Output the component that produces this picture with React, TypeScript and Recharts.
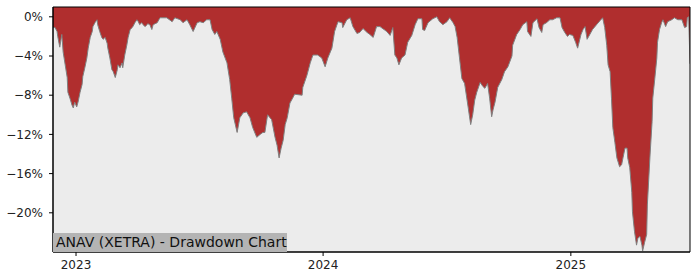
import React from "react";
import { AreaChart, Area, XAxis, YAxis, CartesianGrid, ReferenceArea } from "recharts";

const START_DATE = Date.UTC(2022, 10, 28);
const DAY_MS = 86400000;
const LAST_DAY = 941;

// calendar days since 2022-11-28
const dayOffsets = [
  0, 3, 6, 7, 10, 13, 15, 18, 21, 22, 25, 28, 30, 32, 35, 37, 40, 43, 44, 47, 50, 52, 55, 58, 59, 62, 65, 66, 69, 72,
  74, 77, 80, 81, 84, 87, 89, 92, 95, 96, 99, 102, 103, 106, 109, 111, 114, 117, 118, 121, 124, 126, 128, 131, 133,
  136, 139, 140, 143, 146, 148, 154, 158, 168, 176, 180, 188, 192, 198, 202, 207, 213, 217, 222, 227, 232, 235, 239,
  242, 247, 251, 257, 261, 264, 267, 272, 276, 281, 286, 291, 295, 301, 306, 310, 313, 317, 323, 328, 331, 334, 337,
  340, 343, 346, 350, 354, 357, 368, 369, 375, 380, 384, 391, 397, 402, 406, 412, 416, 421, 427, 428, 434, 439, 443,
  449, 453, 458, 464, 468, 473, 478, 483, 493, 498, 502, 505, 508, 511, 515, 520, 524, 530, 535, 539, 545, 546, 549,
  554, 561, 567, 571, 576, 582, 586, 591, 594, 597, 600, 604, 608, 613, 617, 620, 623, 626, 631, 635, 638, 642, 645,
  648, 650, 653, 657, 663, 667, 672, 678, 679, 685, 690, 694, 700, 701, 706, 709, 715, 718, 722, 724, 729, 734, 738,
  744, 749, 752, 756, 760, 763, 768, 772, 775, 780, 783, 786, 789, 793, 797, 803, 808, 812, 815, 818, 820, 823, 825,
  827, 830, 833, 837, 840, 842, 845, 848, 849, 852, 855, 856, 859, 862, 864, 867, 870, 871, 874, 877, 878, 882, 885,
  886, 889, 892, 893, 896, 899, 901, 905, 908, 914, 918, 923, 929, 933, 936, 937, 939, 941,
];

// drawdown in percent
const drawdownPct = [
  -1.1, -1.1, -1.5, -2.0, -3.1, -1.8, -3.6, -4.9, -6.2, -7.7, -8.3, -9.0, -9.3, -8.7, -9.2, -8.7, -7.7, -6.9, -6.1,
  -5.2, -4.2, -3.2, -2.1, -1.5, -1.0, -0.6, -0.3, -0.8, -1.5, -2.1, -2.3, -2.1, -2.7, -3.2, -4.2, -5.4, -5.6, -6.2,
  -5.4, -4.9, -5.2, -4.7, -5.2, -3.9, -2.9, -2.1, -1.3, -1.1, -1.0, -0.6, -0.3, -0.5, -0.8, -0.6, -0.8, -1.0, -0.8,
  -0.7, -0.8, -1.3, -0.8, -0.6, -0.1, -0.1, -0.5, -0.1, -0.3, -0.6, -0.3, -0.8, -1.5, -0.6, -0.5, -0.6, -0.3, -0.3,
  -1.3, -1.8, -1.5, -2.3, -3.6, -4.7, -6.4, -8.3, -10.3, -11.8, -10.3, -9.8, -9.7, -10.3, -11.3, -12.3, -12.0, -11.8,
  -11.8, -10.0, -10.5, -12.3, -13.1, -14.4, -13.4, -12.6, -11.0, -10.3, -8.8, -8.3, -7.9, -8.0, -7.2, -6.0, -4.7,
  -3.9, -3.9, -4.2, -5.1, -4.2, -3.2, -1.5, -0.5, -0.6, -1.1, -0.3, -0.1, -1.0, -1.7, -1.6, -1.2, -1.6, -1.8, -2.1,
  -1.0, -1.0, -1.5, -1.9, -1.1, -3.9, -4.2, -4.9, -4.2, -3.9, -2.6, -1.9, -0.8, -0.2, -0.2, -1.3, -1.4, -0.6, -0.2,
  0, -0.5, -0.8, -0.5, -0.1, -0.6, -1.0, -2.1, -3.9, -6.3, -6.8, -9.1, -11.0, -10.0, -8.5, -7.7, -6.7, -7.1, -7.3,
  -6.8, -8.3, -10.2, -9.5, -8.7, -7.2, -6.4, -5.6, -5.1, -4.0, -2.9, -1.8, -1.3, -0.8, -0.5, -1.5, -2.0, -0.6, -0.2,
  -1.1, -1.6, -0.8, -0.6, -0.3, -0.3, -0.1, -0.1, -1.1, -1.6, -2.0, -1.8, -1.9, -2.6, -3.2, -1.8, -1.3, -1.0, -2.3,
  -1.8, -1.3, -0.8, -0.4, -0.1, -1.1, -2.9, -4.9, -5.6, -8.3, -11.3, -12.8, -14.4, -15.3, -15.1, -14.4, -13.4, -13.4,
  -14.4, -15.4, -17.9, -19.9, -21.9, -23.3, -22.6, -22.4, -23.3, -23.9, -23.0, -22.2, -19.2, -14.1, -10.7, -8.3,
  -6.3, -4.2, -2.6, -1.3, -0.6, -0.3, -1.0, -0.5, -0.3, -0.1, -0.3, -0.3, -1.1, -1.0, -0.1, 0, -4.8,
];

const yearTicks = [2023, 2024, 2025];
const yTicks = [0, -4, -8, -12, -16, -20];
const Y_DOMAIN: [number, number] = [-24, 1];
const TITLE = "ANAV (XETRA) - Drawdown Chart";

const data = dayOffsets.map((d, i) => ({ t: START_DATE + d * DAY_MS, dd: drawdownPct[i] }));
const xDomain: [number, number] = [START_DATE, START_DATE + LAST_DAY * DAY_MS];

const fmtPct = (v: number) => (v < 0 ? "\u2212" : "") + Math.abs(v) + "%";
const tickStyle = { fontFamily: "DejaVu Sans", fontSize: 12, fill: "#222" };

export default function App() {
  return (
    <div style={{ position: "absolute", left: 0, top: 0, width: 700, height: 280, background: "#fff" }}>
      <AreaChart width={700} height={280} data={data} margin={{ top: 7, right: 10, left: 0, bottom: 0 }}>
        <CartesianGrid fill="#ececec" horizontal={false} vertical={false} />
        <XAxis
          dataKey="t"
          type="number"
          domain={xDomain}
          allowDataOverflow
          ticks={yearTicks.map((y) => Date.UTC(y, 0, 1))}
          tickFormatter={(t: number) => String(new Date(t).getUTCFullYear())}
          height={28}
          tickSize={4}
          tickMargin={4}
          axisLine={{ stroke: "#000" }}
          tickLine={{ stroke: "#000" }}
          tick={tickStyle}
        />
        <YAxis
          type="number"
          domain={Y_DOMAIN}
          allowDataOverflow
          ticks={yTicks}
          tickFormatter={fmtPct}
          width={53}
          tickSize={4}
          tickMargin={6}
          axisLine={{ stroke: "#000" }}
          tickLine={{ stroke: "#000" }}
          tick={tickStyle}
        />
        <Area
          type="linear"
          dataKey="dd"
          baseValue="dataMax"
          fill="#b02e2e"
          fillOpacity={1}
          stroke="#808080"
          strokeWidth={1}
          isAnimationActive={false}
          dot={false}
          activeDot={false}
        />
        <ReferenceArea
          x1={xDomain[0]}
          x2={xDomain[1]}
          y1={Y_DOMAIN[0]}
          y2={Y_DOMAIN[1]}
          fill="none"
          stroke="#000"
          strokeWidth={1}
          ifOverflow="visible"
        />
      </AreaChart>
      <div
        style={{
          position: "absolute",
          left: 53,
          top: 233,
          width: 234,
          height: 19,
          background: "#b4b4b4",
          fontFamily: "DejaVu Sans",
          fontSize: 14,
          lineHeight: "19px",
          color: "#111",
          paddingLeft: 3,
          boxSizing: "border-box",
          whiteSpace: "nowrap",
          overflow: "hidden",
        }}
      >
        {TITLE}
      </div>
    </div>
  );
}
